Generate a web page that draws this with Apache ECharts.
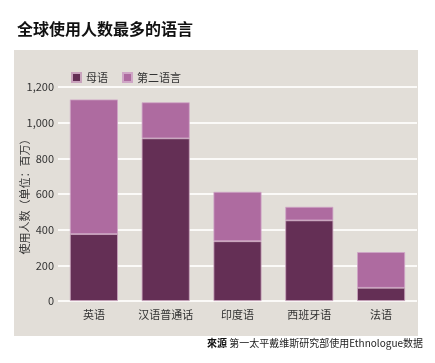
<!DOCTYPE html>
<html><head><meta charset="utf-8">
<script src="https://cdn.jsdelivr.net/npm/echarts@6/dist/echarts.min.js"></script>
<style>html,body{margin:0;padding:0;background:#fff}#c{width:435px;height:363px}</style>
</head><body><div id="c"></div>
<script>
var categories = ['英语','汉语普通话','印度语','西班牙语','法语'];
var nativeSpeakers = [375, 912, 335, 452, 74];
var secondLanguage = [755, 202, 277, 76, 200];
var yTicks = [0, 200, 400, 600, 800, 1000, 1200];
var yAxisTitle = '使用人数（单位：百万）';
var FONT = '"Noto Sans CJK SC", "Noto Sans", sans-serif';
var chart = echarts.init(document.getElementById('c'));
chart.setOption({
  backgroundColor: '#fff',
  textStyle: {fontFamily: FONT},
  graphic: [
    {type:'rect', z:-10, shape:{x:14,y:50,width:404,height:286}, style:{fill:'#e2ded8'}},
    {type:'text', left:17, top:21, style:{text:'全球使用人数最多的语言', font:'bold 16px ' + FONT, fill:'#111'}},
    {type:'text', x:25, y:194, rotation: Math.PI/2, style:{text: yAxisTitle, font:'11px ' + FONT, fill:'#333', align:'center', verticalAlign:'middle'}},
    {type:'text', right:12, top:338, style:{
      text:'{b|來源} 第一太平戴维斯研究部使用Ethnologue数据',
      font:'10px ' + FONT, fill:'#222',
      rich:{b:{fontWeight:'bold', fontSize:10, fontFamily:FONT, fill:'#111'}}
    }}
  ],
  legend: {
    left: 66, top: 67, itemWidth: 9, itemHeight: 9, itemGap: 14, icon: 'rect',
    textStyle: {fontSize: 11, color: '#333', fontFamily: FONT},
    data: ['母语','第二语言']
  },
  grid: {left: 58, top: 87, width: 359, height: 214},
  xAxis: {
    type: 'category', data: categories,
    axisLine: {show: false}, axisTick: {show: false},
    axisLabel: {fontSize: 11, color: '#333', margin: 8, interval: 0, fontFamily: FONT}
  },
  yAxis: {
    type: 'value', min: 0, max: 1200, interval: 200,
    axisLine: {show: false}, axisTick: {show: false},
    axisLabel: {fontSize: 11, color: '#333', margin: 4, fontFamily: FONT,
      formatter: function(v){ return yTicks.indexOf(v) >= 0 ? v.toLocaleString('en-US') : ''; }},
    splitLine: {lineStyle: {color: '#fbfaf8', width: 2}}
  },
  series: [
    {name:'母语', type:'bar', stack:'t', data: nativeSpeakers, barWidth: 48,
      itemStyle:{color:'#642f55', borderColor:'#c9a3bd', borderWidth:0.8}},
    {name:'第二语言', type:'bar', stack:'t', data: secondLanguage, barWidth: 48,
      itemStyle:{color:'#ae6ba0', borderColor:'#cfa6c6', borderWidth:0.8}}
  ]
});
</script></body></html>
